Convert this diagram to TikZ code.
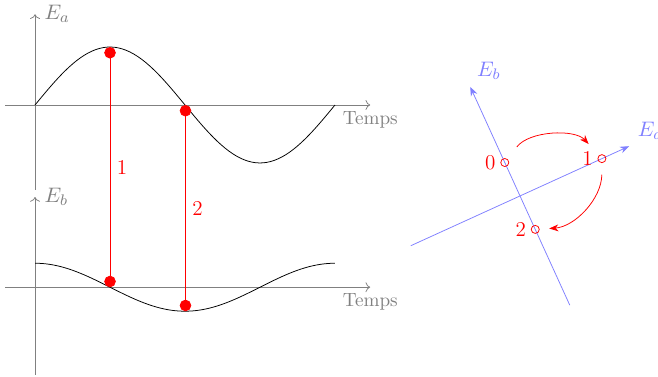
\documentclass[tikz,border=0pt]{standalone}
\usetikzlibrary{arrows.meta}
\newcommand{\lblsize}{\fontsize{11}{13}\selectfont}
\begin{document}
\begin{tikzpicture}[scale=1.375,
  axe/.style={gray,->},
  repere/.style={blue!50,-{Stealth}},
  mesure/.style={red,{Circle[length=6pt]}-{Circle[length=6pt]}},
  pt/.style={circle,draw=red,inner sep=0pt,minimum size=4.2pt},
  rot/.style={red,-{Stealth},bend left=#1}]
\useasboundingbox (-0.467,-3.627) rectangle (8.307,1.4);
% signaux en fonction du temps
\draw[axe] (-0.4,0) -- (4.47,0) node[below]{Temps};
\draw[axe] (0,-1.13) -- (0,1.21) node[right,xshift=1.5pt,font=\lblsize]{$E_a$};
\draw[axe] (-0.4,-2.43) -- (4.47,-2.43) node[below]{Temps};
\draw[axe] (0,-3.6) -- (0,-1.227) node[right,xshift=1.5pt,font=\lblsize]{$E_b$};
\draw[domain=0:4,samples=80] plot(\x,{0.773*sin(90*\x)});
\draw[domain=0:4,samples=80] plot(\x,{-2.43+0.32*cos(90*\x)});
\coordinate (a1) at (1,0.773);
\coordinate (b1) at (1,-2.43);
\coordinate (a2) at (2.006,0);
\coordinate (b2) at (2.006,-2.75);
\draw[mesure] (a1) -- node[right,font=\lblsize]{1} (b1);
\draw[mesure] (a2) -- node[right,font=\lblsize]{2} (b2);
% plan (E_a,E_b)
\begin{scope}[shift={(6.467,-1.213)},rotate=24.5]
\draw[repere] (-1.6,0) -- (1.6,0) node[above right,xshift=1pt,font=\lblsize]{$E_a$};
\draw[repere] (0,-1.6) -- (0,1.6) node[above right,font=\lblsize]{$E_b$};
\node[pt,label={[red,font=\lblsize,label distance=-1pt]left:0}] (p0) at (0,0.49) {};
\node[pt,label={[red,font=\lblsize,label distance=-1pt]left:1}] (p1) at (1.2,0) {};
\node[pt,label={[red,font=\lblsize,label distance=-1pt]left:2}] (p2) at (0,-0.49) {};
\draw[rot=50,shorten <=8pt,shorten >=8pt] (p0) to (p1);
\draw[rot=43,shorten <=6pt,shorten >=5pt] (p1) to (p2);
\end{scope}
\end{tikzpicture}
\end{document}
